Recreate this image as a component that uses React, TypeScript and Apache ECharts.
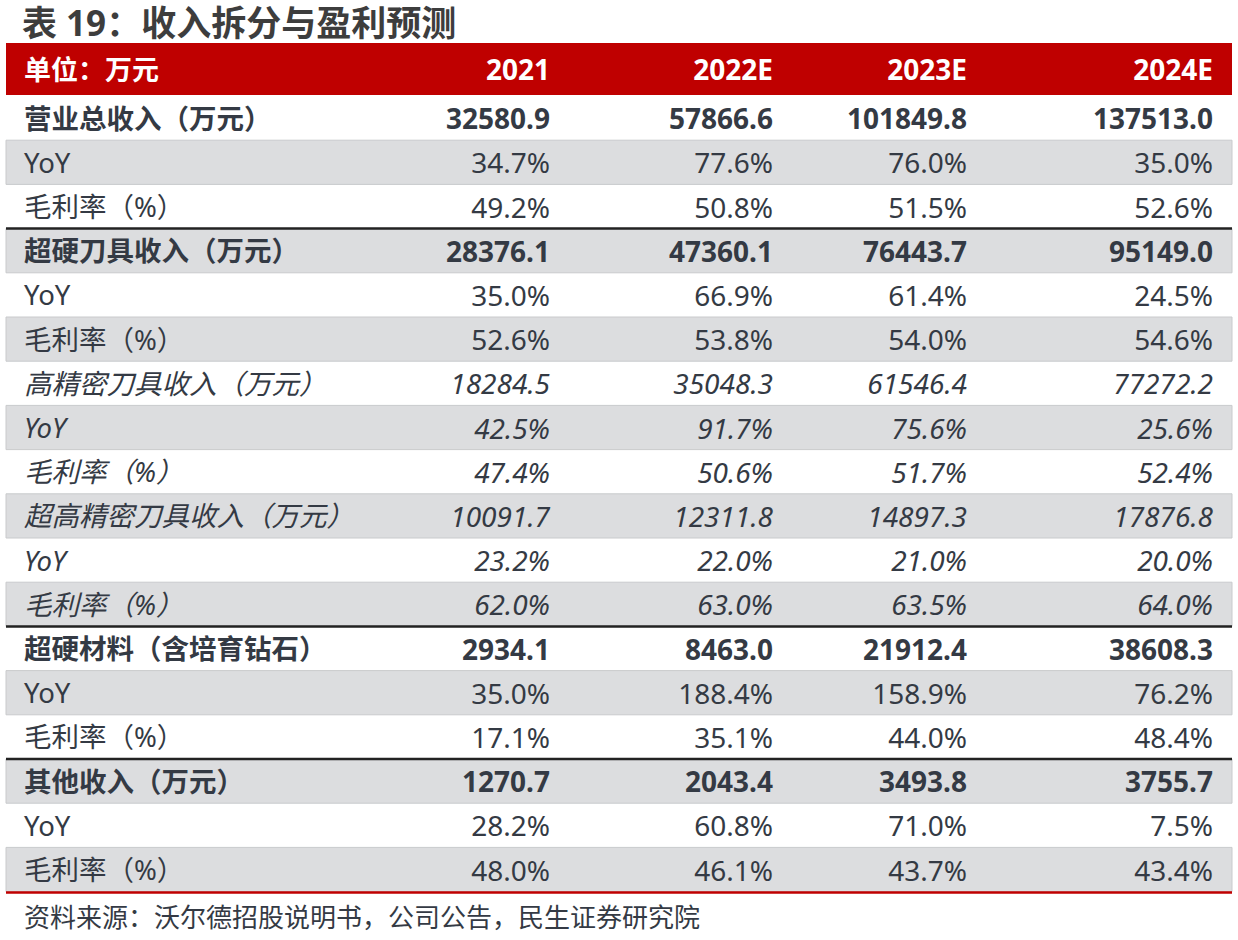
import React, { useEffect, useRef } from "react";
import * as echarts from "echarts";

const title = "表 19：收入拆分与盈利预测";
const headerLabel = "单位：万元";
const years = ["2021", "2022E", "2023E", "2024E"];
const rowLabels = [
  "营业总收入（万元）", "YoY", "毛利率（%）",
  "超硬刀具收入（万元）", "YoY", "毛利率（%）",
  "高精密刀具收入（万元）", "YoY", "毛利率（%）",
  "超高精密刀具收入（万元）", "YoY", "毛利率（%）",
  "超硬材料（含培育钻石）", "YoY", "毛利率（%）",
  "其他收入（万元）", "YoY", "毛利率（%）",
];
// amounts in 万元, percentages in %
const v2021 = [32580.9, 34.7, 49.2, 28376.1, 35.0, 52.6, 18284.5, 42.5, 47.4, 10091.7, 23.2, 62.0, 2934.1, 35.0, 17.1, 1270.7, 28.2, 48.0];
const v2022 = [57866.6, 77.6, 50.8, 47360.1, 66.9, 53.8, 35048.3, 91.7, 50.6, 12311.8, 22.0, 63.0, 8463.0, 188.4, 35.1, 2043.4, 60.8, 46.1];
const v2023 = [101849.8, 76.0, 51.5, 76443.7, 61.4, 54.0, 61546.4, 75.6, 51.7, 14897.3, 21.0, 63.5, 21912.4, 158.9, 44.0, 3493.8, 71.0, 43.7];
const v2024 = [137513.0, 35.0, 52.6, 95149.0, 24.5, 54.6, 77272.2, 25.6, 52.4, 17876.8, 20.0, 64.0, 38608.3, 76.2, 48.4, 3755.7, 7.5, 43.4];
const boldRows = [0, 3, 12, 15];
const italicRows = [6, 7, 8, 9, 10, 11];
const thickLineBefore = [3, 12, 15];
const source = "资料来源：沃尔德招股说明书，公司公告，民生证券研究院";

const FONT = '"Noto Sans", "Noto Sans CJK SC", sans-serif';
const TEXT = "#343a44";
const RED = "#bf0000";
const GRAY = "#dcdddf";

export default function App() {
  const ref = useRef<HTMLDivElement>(null);
  useEffect(() => {
    document.body.style.margin = "0";
    const chart = echarts.init(ref.current!, null, { renderer: "svg" });
    const cols = [v2021, v2022, v2023, v2024];
    const colRight = [550, 773, 967, 1213];
    const left = 6, right = 1232, width = right - left;
    const headTop = 43, headH = 52;
    const rowTop = 96, rowH = 44.2;
    const els: any[] = [];
    els.push({ type: "rect", shape: { x: 0, y: 0, width: 1238, height: 940 }, style: { fill: "#fff" }, silent: true });
    els.push({ type: "text", x: 22, y: 22, style: { text: title, fill: "#3d3d3d", font: `bold 35px ${FONT}`, textVerticalAlign: "middle", textAlign: "left" } });
    els.push({ type: "rect", shape: { x: left, y: headTop, width, height: headH }, style: { fill: RED } });
    els.push({ type: "text", x: 24, y: headTop + headH / 2, style: { text: headerLabel, fill: "#fff", font: `bold 27px ${FONT}`, textVerticalAlign: "middle", textAlign: "left" } });
    years.forEach((y, j) => {
      els.push({ type: "text", x: colRight[j], y: headTop + headH / 2, style: { text: y, fill: "#fff", font: `bold 28px ${FONT}`, textVerticalAlign: "middle", textAlign: "right" } });
    });
    rowLabels.forEach((lab, i) => {
      const top = rowTop + i * rowH;
      const cy = top + rowH / 2;
      if (i % 2 === 1) {
        els.push({ type: "rect", shape: { x: left, y: top, width, height: rowH }, style: { fill: GRAY, stroke: "#c9cacc", lineWidth: 1 } });
      }
      const bold = boldRows.includes(i) ? "bold " : "";
      const ital = italicRows.includes(i) ? "italic " : "";
      els.push({ type: "text", x: 24, y: cy, style: { text: lab, fill: TEXT, font: `${ital}${bold}27.5px ${FONT}`, textVerticalAlign: "middle", textAlign: "left" } });
      cols.forEach((col, j) => {
        const v = col[i];
        const txt = i % 3 === 0 ? v.toFixed(1) : v.toFixed(1) + "%";
        els.push({ type: "text", x: colRight[j], y: cy, style: { text: txt, fill: TEXT, font: `${ital}${bold}28px ${FONT}`, textVerticalAlign: "middle", textAlign: "right" } });
      });
    });
    thickLineBefore.forEach((i) => {
      const y = rowTop + i * rowH;
      els.push({ type: "line", shape: { x1: left, y1: y, x2: right, y2: y }, style: { stroke: "#222", lineWidth: 2.5 } });
    });
    const bottom = rowTop + rowLabels.length * rowH;
    els.push({ type: "line", shape: { x1: left, y1: bottom + 1, x2: right, y2: bottom + 1 }, style: { stroke: RED, lineWidth: 2.5 } });
    els.push({ type: "text", x: 24, y: 917, style: { text: source, fill: TEXT, font: `26px ${FONT}`, textVerticalAlign: "middle", textAlign: "left" } });

    chart.setOption({ animation: false, graphic: { elements: els } });
    return () => chart.dispose();
  }, []);
  return <div ref={ref} style={{ width: 1238, height: 940 }} />;
}
